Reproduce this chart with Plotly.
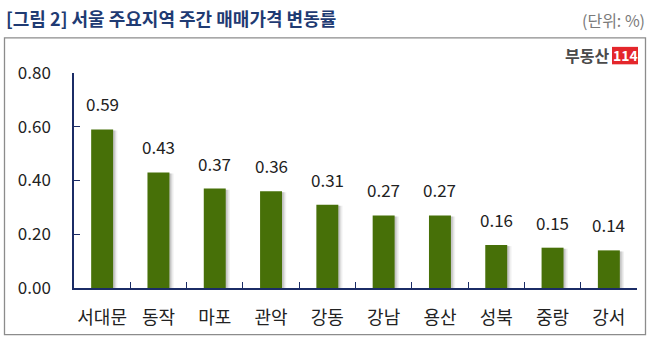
import plotly.graph_objects as go

# Weekly apartment sale-price change by Seoul district (%)
districts = ["서대문", "동작", "마포", "관악", "강동", "강남", "용산", "성북", "중랑", "강서"]
changes = [0.59, 0.43, 0.37, 0.36, 0.31, 0.27, 0.27, 0.16, 0.15, 0.14]
y_ticks = [0.0, 0.2, 0.4, 0.6, 0.8]

W, H = 651, 340
ML, MR, MT, MB = 74, 14, 72.7, 51.7
PW, PH = W - ML - MR, H - MT - MB

def px_x(px):
    return (px - ML) / PW

def px_y(py):
    return 1 - (py - MT) / PH

FONT = "Noto Sans CJK KR"
NAVY = "#1B2C66"
GREEN = "#477008"
BAR_W = 0.39

fig = go.Figure()

# soft drop shadow to the right of each bar
for shift, alpha in [(0.075, 0.07), (0.05, 0.10), (0.03, 0.14)]:
    fig.add_trace(go.Bar(
        x=districts, y=[v - 0.004 for v in changes],
        base=[0] * len(changes),
        width=BAR_W, offset=-BAR_W / 2 + shift,
        marker=dict(color=f"rgba(60,60,60,{alpha})", line=dict(width=0)),
        hoverinfo="skip", showlegend=False,
    ))

fig.add_trace(go.Bar(
    x=districts, y=changes,
    width=BAR_W, offset=-BAR_W / 2,
    marker=dict(color=GREEN, line=dict(width=0)),
    showlegend=False,
))

# value labels above bars
for d, v in zip(districts, changes):
    fig.add_annotation(
        x=d, y=v, text=f"{v:.2f}", showarrow=False,
        yanchor="bottom", yshift=11,
        font=dict(family=FONT, size=17, color="#222222"),
    )

fig.update_layout(
    width=W, height=H,
    margin=dict(l=ML, r=MR, t=MT, b=MB),
    paper_bgcolor="white", plot_bgcolor="white",
    barmode="overlay",
    bargap=0.6,
    xaxis=dict(
        type="category", tickangle=0, automargin=False,
        showline=True, linecolor=NAVY, linewidth=1.5,
        ticks="inside", tickson="boundaries", ticklen=6, tickcolor=NAVY, tickwidth=1.2,
        tickfont=dict(family=FONT, size=18, color="#222222"),
        ticklabelstandoff=13,
        showgrid=False, zeroline=False,
    ),
    yaxis=dict(
        range=[0, 0.8], automargin=False,
        tickvals=y_ticks, ticktext=[f"{t:.2f}" for t in y_ticks],
        showline=True, linecolor=NAVY, linewidth=1.5,
        ticks="inside", ticklen=6, tickcolor=NAVY, tickwidth=1.2,
        tickfont=dict(family=FONT, size=17, color="#222222"),
        ticklabelstandoff=18,
        showgrid=False, zeroline=False,
    ),
    shapes=[
        # frame around the chart body
        dict(type="rect", xref="paper", yref="paper",
             x0=px_x(4.5), x1=px_x(645.5), y0=px_y(37.5), y1=px_y(335),
             line=dict(color="#8C8C8C", width=1.3), fillcolor="rgba(0,0,0,0)", layer="below"),
        # red badge of the logo
        dict(type="rect", xref="paper", yref="paper",
             x0=px_x(612), x1=px_x(638), y0=px_y(46.5), y1=px_y(64),
             line=dict(width=0), fillcolor="#E4262B"),
    ],
    annotations=list(fig.layout.annotations) + [
        dict(text="<b>[그림 2] 서울 주요지역 주간 매매가격 변동률</b>",
             xref="paper", yref="paper", x=px_x(4), y=px_y(3),
             xanchor="left", yanchor="top", showarrow=False,
             font=dict(family=FONT, size=18, color="#1F3B73")),
        dict(text="(단위: %)",
             xref="paper", yref="paper", x=px_x(647), y=px_y(6),
             xanchor="right", yanchor="top", showarrow=False,
             font=dict(family=FONT, size=16, color="#7A7A7A")),
        dict(text="<b>부동산</b>",
             xref="paper", yref="paper", x=px_x(611), y=px_y(55),
             xanchor="right", yanchor="middle", showarrow=False,
             font=dict(family=FONT, size=16, color="#4A4A4A")),
        dict(text="<b>114</b>",
             xref="paper", yref="paper", x=px_x(625), y=px_y(55),
             xanchor="center", yanchor="middle", showarrow=False,
             font=dict(family=FONT, size=14, color="white")),
    ],
)

fig.write_html("out.html")
